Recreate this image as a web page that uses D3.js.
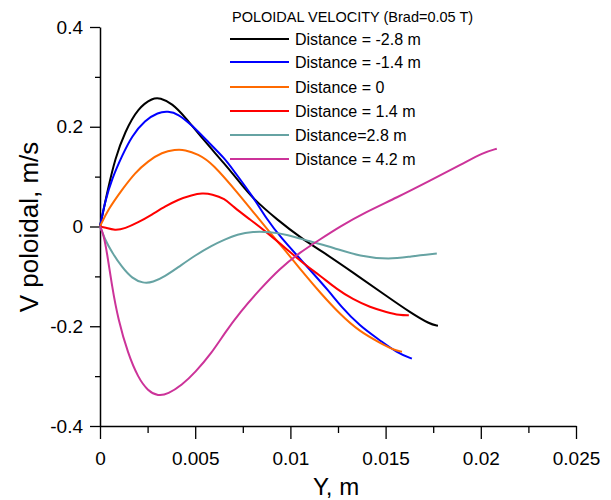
<!DOCTYPE html>
<html>
<head>
    <title>Poloidal velocity</title>
    <style>
        body { margin: 0; background: #ffffff; }
        svg { font-family: Arial, "Liberation Sans", sans-serif; }
    </style>
    <script src="https://d3js.org/d3.v7.min.js"></script>
</head>
<body>
    <svg id="chart" width="611" height="500"></svg>
    <script>
        // series labels / colours
        var seriesNames = ["Distance = -2.8 m", "Distance = -1.4 m", "Distance = 0",
                           "Distance = 1.4 m", "Distance=2.8 m", "Distance = 4.2 m"];
        var seriesColors = ["#000000", "#0000ff", "#ff6a00", "#ff0000", "#66a3a3", "#cc3399"];

        // values: [Y (m), V (m/s)]
        var distM28 = [[0,0],[0.00042,0.076],[0.00079,0.136],[0.00131,0.190],[0.0020,0.238],[0.00278,0.258],
            [0.00315,0.258],[0.00378,0.247],[0.00446,0.220],[0.00536,0.177],[0.00656,0.125],[0.00735,0.088],
            [0.00803,0.056],[0.00929,0.014],[0.01066,-0.026],[0.01155,-0.047],[0.01328,-0.092],[0.01507,-0.140],
            [0.01628,-0.172],[0.01733,-0.196],[0.01775,-0.199]];
        var distM14 = [[0,0],[0.00026,0.050],[0.00063,0.096],[0.00116,0.142],[0.00168,0.182],[0.00236,0.213],
            [0.00305,0.229],[0.00357,0.231],[0.0041,0.226],[0.00483,0.203],[0.00567,0.170],[0.00656,0.136],
            [0.00698,0.114],[0.00803,0.060],[0.00877,0.014],[0.00945,-0.020],[0.01087,-0.080],[0.01208,-0.132],
            [0.0126,-0.158],[0.01365,-0.200],[0.0147,-0.228],[0.01559,-0.253],[0.01638,-0.265]];
        var dist0 = [[0,0],[0.00042,0.034],[0.00116,0.074],[0.00184,0.108],[0.00252,0.131],[0.00326,0.149],
            [0.00394,0.154],[0.00446,0.154],[0.00515,0.145],[0.00588,0.128],[0.00735,0.062],[0.00824,0.020],
            [0.00893,-0.012],[0.00945,-0.036],[0.00982,-0.052],[0.01087,-0.102],[0.01155,-0.132],[0.0126,-0.176],
            [0.01365,-0.211],[0.0147,-0.233],[0.01538,-0.247],[0.01586,-0.251]];
        var dist14 = [[0,0],[0.00026,-0.002],[0.00079,-0.008],[0.00131,-0.004],[0.0020,0.008],[0.00273,0.024],
            [0.00341,0.040],[0.0041,0.054],[0.00483,0.063],[0.00536,0.067],[0.00588,0.065],[0.00656,0.056],
            [0.00698,0.040],[0.00788,0.014],[0.00877,-0.012],[0.00982,-0.046],[0.01087,-0.080],[0.01155,-0.098],
            [0.01244,-0.126],[0.01328,-0.146],[0.01418,-0.162],[0.01507,-0.172],[0.01575,-0.178],[0.01622,-0.178]];
        var dist28 = [[0,0],[0.00026,-0.026],[0.00063,-0.052],[0.00116,-0.082],[0.00168,-0.104],[0.00226,-0.114],
            [0.00278,-0.112],[0.00341,-0.100],[0.0041,-0.082],[0.00499,-0.058],[0.00588,-0.038],[0.00656,-0.026],
            [0.00719,-0.016],[0.00803,-0.010],[0.00893,-0.011],[0.00982,-0.016],[0.01103,-0.030],[0.01223,-0.042],
            [0.01365,-0.060],[0.01523,-0.066],[0.01628,-0.060],[0.01769,-0.054]];
        var dist42 = [[0,0],[0.00016,-0.012],[0.00037,-0.052],[0.00063,-0.120],[0.00095,-0.186],[0.00147,-0.255],
            [0.0020,-0.303],[0.00252,-0.330],[0.00305,-0.340],[0.00357,-0.336],[0.0043,-0.318],[0.00499,-0.293],
            [0.00588,-0.253],[0.00656,-0.213],[0.00735,-0.172],[0.0084,-0.126],[0.00945,-0.084],[0.0105,-0.052],
            [0.01155,-0.026],[0.0126,0.000],[0.01391,0.028],[0.01559,0.058],[0.01733,0.092],[0.01906,0.126],
            [0.02011,0.148],[0.02084,0.156]];
        var seriesData = [distM28, distM14, dist0, dist14, dist28, dist42];

        // ticks
        var xTicks = [0, 0.005, 0.01, 0.015, 0.02, 0.025];
        var xTickLabels = ["0", "0.005", "0.01", "0.015", "0.02", "0.025"];
        var xMinorTicks = [0.0025, 0.0075, 0.0125, 0.0175, 0.0225];
        var yTicks = [-0.4, -0.2, 0, 0.2, 0.4];
        var yTickLabels = ["-0.4", "-0.2", "0", "0.2", "0.4"];
        var yMinorTicks = [-0.3, -0.1, 0.1, 0.3];

        var svg = d3.select("#chart");

        var x = d3.scaleLinear().domain([0, 0.025]).range([100, 576]);
        var y = d3.scaleLinear().domain([-0.4, 0.4]).range([426, 27]);

        // minor ticks first (no labels)
        svg.append("g")
            .attr("transform", "translate(0,426)")
            .call(d3.axisBottom(x).tickValues(xMinorTicks).tickSize(7).tickSizeOuter(0).tickFormat(""))
            .call(function(g) { g.select(".domain").remove(); });
        svg.append("g")
            .attr("transform", "translate(100,0)")
            .call(d3.axisLeft(y).tickValues(yMinorTicks).tickSize(5).tickSizeOuter(0).tickFormat(""))
            .call(function(g) { g.select(".domain").remove(); });

        var xAxis = svg.append("g")
            .attr("transform", "translate(0,426)")
            .call(d3.axisBottom(x).tickValues(xTicks).tickSize(13).tickSizeOuter(0).tickPadding(13)
                .tickFormat(function(d, i) { return xTickLabels[i]; }));
        var yAxis = svg.append("g")
            .attr("transform", "translate(100,0)")
            .call(d3.axisLeft(y).tickValues(yTicks).tickSize(10).tickSizeOuter(0).tickPadding(7)
                .tickFormat(function(d, i) { return yTickLabels[i]; }));

        svg.selectAll(".tick line").attr("stroke", "#000").attr("stroke-width", 1.3);
        svg.selectAll(".domain").attr("stroke", "#000").attr("stroke-width", 1.5);
        svg.selectAll(".tick text").attr("fill", "#000")
            .style("font-family", "Arial, 'Liberation Sans', sans-serif")
            .style("font-size", "19px");

        // axis titles
        svg.append("text")
            .attr("x", 336).attr("y", 495)
            .attr("text-anchor", "middle")
            .style("font-size", "24px")
            .text("Y, m");
        svg.append("text")
            .attr("transform", "translate(38,227) rotate(-90)")
            .attr("text-anchor", "middle")
            .style("font-size", "26px")
            .text("V poloidal, m/s");

        // curves
        var line = d3.line()
            .x(function(d) { return x(d[0]); })
            .y(function(d) { return y(d[1]); })
            .curve(d3.curveBasis);

        seriesData.forEach(function(s, i) {
            svg.append("path")
                .datum(s)
                .attr("d", line)
                .attr("fill", "none")
                .attr("stroke", seriesColors[i])
                .attr("stroke-width", 2);
        });

        // legend
        var legend = svg.append("g").attr("transform", "translate(230,0)");
        legend.append("text")
            .attr("x", 2).attr("y", 22)
            .style("font-size", "14.5px")
            .text("POLOIDAL VELOCITY (Brad=0.05 T)");
        var legendY = [39, 62, 87, 111, 135, 159];
        seriesNames.forEach(function(name, i) {
            legend.append("line")
                .attr("x1", 0).attr("x2", 59)
                .attr("y1", legendY[i]).attr("y2", legendY[i])
                .attr("stroke", seriesColors[i])
                .attr("stroke-width", 2);
            legend.append("text")
                .attr("x", 65).attr("y", legendY[i] + 6)
                .style("font-size", "16px")
                .text(name);
        });
    </script>
</body>
</html>
